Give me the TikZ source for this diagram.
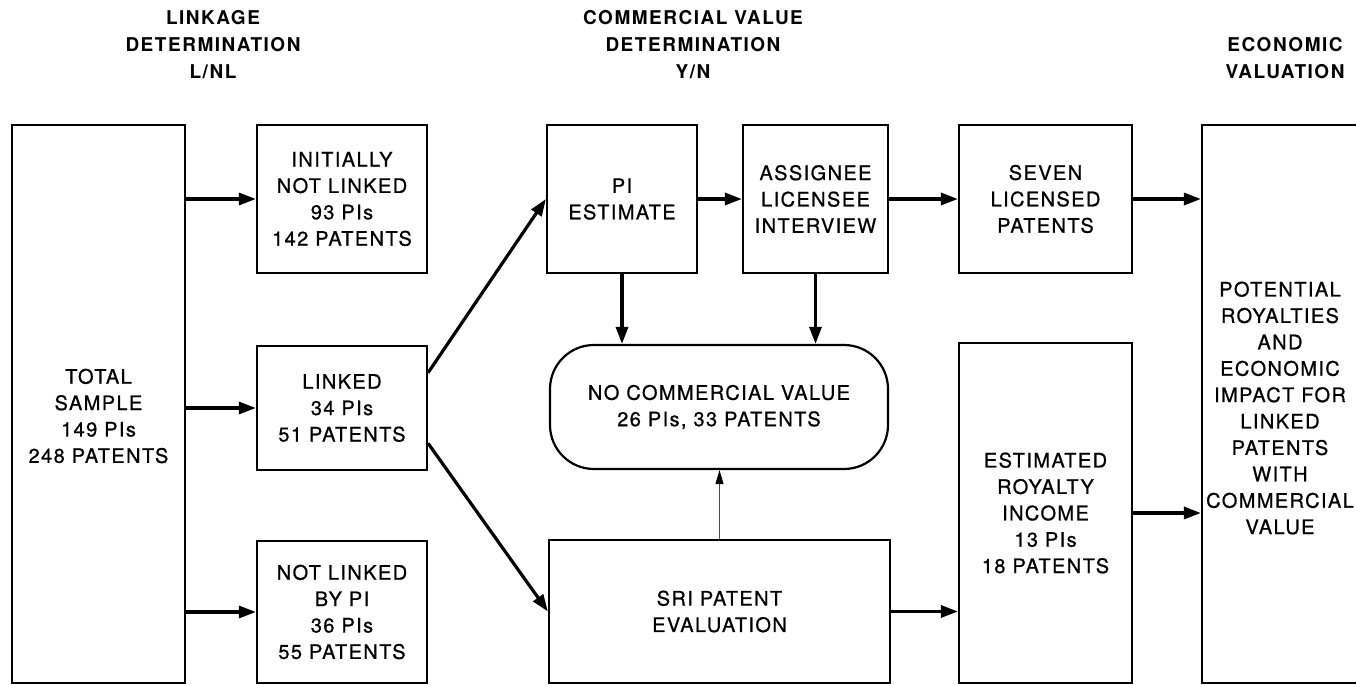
\documentclass[tikz,border=0pt]{standalone}
\usepackage{fontspec}
\setmainfont{TeX Gyre Heros}
\newfontfamily\boxfont[LetterSpace=7,FakeBold=0.8]{TeX Gyre Heros}
\newfontfamily\hdrfont[LetterSpace=8]{TeX Gyre Heros Bold}
\usetikzlibrary{arrows.meta,calc}
\begin{document}
\begin{tikzpicture}[x=0.5pt,y=-0.5pt,
  box/.style={draw, line width=1.1pt, inner sep=0pt, align=center,
    font=\boxfont\fontsize{10}{13.2}\selectfont},
  txt/.style={inner sep=0pt, align=center, font=\boxfont\fontsize{10}{13.2}\selectfont},
  hdr/.style={inner sep=0pt, align=center, font=\hdrfont\fontsize{9.5}{13.5}\selectfont},
  arr/.style={line width=1.6pt, -{Triangle[length=8.5pt,width=6pt]}},
  thinarr/.style={line width=0.6pt, draw=black!70, -{Triangle[length=7pt,width=4pt,color=black,fill=black]}}]
\useasboundingbox (0,0) rectangle (1356,685);
\clip (0,0) rectangle (1356,685);
% headers
\node[hdr] (h1) at (213,45) {LINKAGE\\DETERMINATION\\L/NL};
\node[hdr] (h2) at (693,45) {COMMERCIAL VALUE\\DETERMINATION\\Y/N};
\node[hdr] (h3) at (1285,58.5) {ECONOMIC\\VALUATION};
% boxes
\node[box, minimum width=86.5pt, minimum height=279pt] (total) at (98.5,404) {};
\node[txt] (totaltxt) at (98.5,416) {TOTAL\\SAMPLE\\149 PIs\\248 PATENTS};
\node[box, minimum width=85pt, minimum height=74pt] (init) at (342,199) {INITIALLY\\NOT LINKED\\93 PIs\\142 PATENTS};
\node[box, minimum width=85pt, minimum height=62pt] (linked) at (342,408) {LINKED\\34 PIs\\51 PATENTS};
\node[box, minimum width=85pt, minimum height=71pt] (notl) at (342,612) {NOT LINKED\\BY PI\\36 PIs\\55 PATENTS};
\node[box, minimum width=75pt, minimum height=74pt] (pi) at (622,199) {PI\\ESTIMATE};
\node[box, minimum width=72.5pt, minimum height=74pt] (assg) at (815.5,199) {ASSIGNEE\\LICENSEE\\INTERVIEW};
\node[box, minimum width=86.5pt, minimum height=74pt] (seven) at (1045.5,199) {SEVEN\\LICENSED\\PATENTS};
\node[box, minimum width=89pt, minimum height=279pt] (pot) at (1291,404) {};
\node[txt] (pottxt) at (1280,408) {POTENTIAL\\ROYALTIES\\AND\\ECONOMIC\\IMPACT FOR\\LINKED\\PATENTS\\WITH\\COMMERCIAL\\VALUE};
\node[box, rounded corners=22pt, minimum width=169pt, minimum height=62pt] (ncv) at (719,407) {NO COMMERCIAL VALUE\\26 PIs, 33 PATENTS};
\node[box, minimum width=170.5pt, minimum height=71.5pt] (sri) at (719.5,611.5) {SRI PATENT\\EVALUATION};
\node[box, minimum width=86.5pt, minimum height=170pt] (est) at (1045.5,513) {ESTIMATED\\ROYALTY\\INCOME\\13 PIs\\18 PATENTS};
% connectors
\draw[arr] (total.east |- init.west) -- (init.west);
\draw[arr] (total.east |- linked.west) -- (linked.west);
\draw[arr] (total.east |- notl.west) -- (notl.west);
\draw[arr] ($(linked.north east)!0.22!(linked.south east)$) -- (pi.west);
\draw[arr] ($(linked.north east)!0.78!(linked.south east)$) -- (sri.west);
\draw[arr] (pi.east) -- (assg.west);
\draw[arr] (assg.east) -- (seven.west);
\draw[arr] (seven.east) -- (seven.east -| pot.west);
\draw[arr] (pi.south) -- (pi.south |- ncv.north);
\draw[arr] (assg.south) -- (assg.south |- ncv.north);
\draw[thinarr] (sri.north) -- (sri.north |- ncv.south);
\draw[arr] (sri.east) -- (sri.east -| est.west);
\draw[arr] (est.east) -- (est.east -| pot.west);
\end{tikzpicture}
\end{document}
